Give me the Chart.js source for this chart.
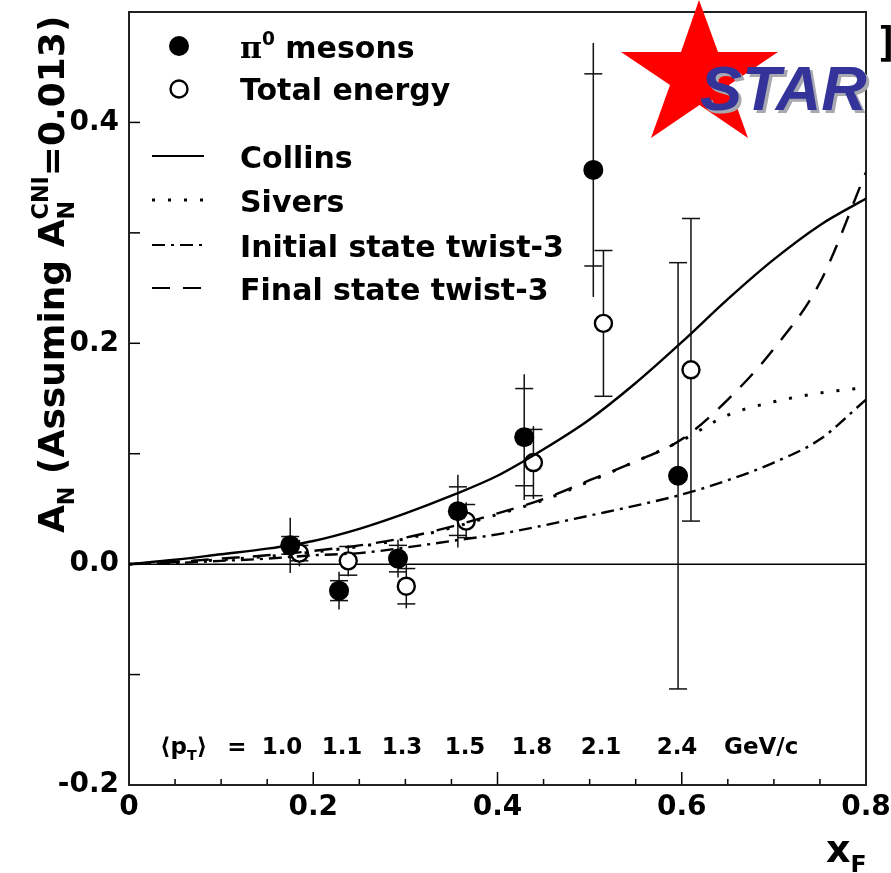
<!DOCTYPE html>
<html>
<head>
<meta charset="utf-8">
<title>STAR A_N vs x_F</title>
<script src="https://cdn.jsdelivr.net/npm/chart.js@4.4.1/dist/chart.umd.min.js"></script>
<style>
html,body{margin:0;padding:0;background:#ffffff;}
canvas{display:block;}
</style>
</head>
<body>
<canvas id="chart" width="891" height="873"></canvas>
<script>
// ---------------- data ----------------
const curveX   = [0, 0.05, 0.10, 0.15, 0.20, 0.25, 0.30, 0.35, 0.40, 0.45, 0.50, 0.55, 0.60, 0.65, 0.70, 0.75, 0.80];
const collinsY = [0, 0.004, 0.009, 0.014, 0.021, 0.032, 0.046, 0.062, 0.080, 0.104, 0.131, 0.164, 0.201, 0.240, 0.276, 0.307, 0.331];
const siversY  = [0, 0.002, 0.004, 0.007, 0.011, 0.016, 0.023, 0.033, 0.045, 0.058, 0.075, 0.093, 0.112, 0.135, 0.147, 0.155, 0.160];
const initialY = [0, 0.001, 0.003, 0.005, 0.008, 0.010, 0.015, 0.021, 0.027, 0.035, 0.044, 0.053, 0.063, 0.076, 0.092, 0.113, 0.149];
const finalY   = [0, 0.002, 0.005, 0.008, 0.012, 0.017, 0.024, 0.034, 0.046, 0.059, 0.076, 0.093, 0.113, 0.149, 0.195, 0.255, 0.355];

const pionX    = [0.175, 0.228, 0.292, 0.357, 0.429, 0.504, 0.596];
const pionY    = [0.017, -0.024, 0.005, 0.048, 0.115, 0.357, 0.080];
const pionErr  = [0.025, 0.017, 0.017, 0.033, 0.057, 0.115, 0.193];
const pionStat = [0.008, 0.009, 0.012, 0.022, 0.044, 0.087, 0.193];

const totX     = [0.185, 0.238, 0.301, 0.366, 0.439, 0.515, 0.610];
const totY     = [0.010, 0.003, -0.020, 0.039, 0.092, 0.218, 0.176];
const totErr   = [0.012, 0.014, 0.020, 0.017, 0.033, 0.066, 0.137];
const totStat  = [0.007, 0.013, 0.016, 0.015, 0.030, 0.066, 0.137];

const ptValues    = ['1.0', '1.1', '1.3', '1.5', '1.8', '2.1', '2.4'];
const xTickVals   = [0, 0.2, 0.4, 0.6, 0.8];
const xTickLabels = ['0', '0.2', '0.4', '0.6', '0.8'];
const yTickVals   = [-0.2, 0, 0.2, 0.4];
const yTickLabels = ['-0.2', '0.0', '0.2', '0.4'];
const seriesNames = ['mesons', 'Total energy', 'Collins', 'Sivers', 'Initial state twist-3', 'Final state twist-3'];

// ---------------- helpers ----------------
const FAM = "'DejaVu Sans', 'Liberation Sans', sans-serif";
const INK = '#000000';
const DASH_SIVERS = [3, 13];
const DASH_INITIAL = [13, 6, 3, 6];
const DASH_FINAL = [18, 13];

function drawRich(ctx, x, y, parts, size) {
  let cx = x, prevStart = x;
  for (const p of parts) {
    const s = p.mode ? size * 0.62 : size;
    const fam = p.family || FAM;
    ctx.font = (p.italic ? 'italic ' : '') + 'bold ' + s + 'px ' + fam;
    const w = ctx.measureText(p.t).width;
    const start = p.stack ? prevStart : cx;
    const dy = p.mode === 'sub' ? size * 0.27 : (p.mode === 'sup' ? -size * 0.45 : 0);
    ctx.fillText(p.t, start, y + dy);
    cx = p.stack ? Math.max(cx, start + w) : start + w;
    prevStart = start;
  }
  return cx;
}

const pts = (xs, ys) => xs.map((v, i) => ({x: v, y: ys[i]}));

// background frame, inward ticks, zero line, error bars
const underlay = {
  id: 'underlay',
  beforeDatasetsDraw(chart) {
    const {ctx, chartArea: a, scales: {x, y}} = chart;
    ctx.save();
    ctx.strokeStyle = INK;
    // zero line
    ctx.lineWidth = 1.5;
    ctx.beginPath();
    ctx.moveTo(x.getPixelForValue(0), y.getPixelForValue(0));
    ctx.lineTo(x.getPixelForValue(0.8), y.getPixelForValue(0));
    ctx.stroke();
    // inward ticks on x
    ctx.lineWidth = 1.5;
    for (let k = 1; k < 16; k++) {
      const v = k * 0.05;
      const px = x.getPixelForValue(v);
      const len = (k % 4 === 0) ? 13 : 6;
      ctx.beginPath(); ctx.moveTo(px, a.bottom); ctx.lineTo(px, a.bottom - len); ctx.stroke();
    }
    // inward ticks on y
    for (let k = -1; k <= 4; k++) {
      const v = k * 0.1;
      const py = y.getPixelForValue(v);
      ctx.beginPath(); ctx.moveTo(a.left, py); ctx.lineTo(a.left + 11, py); ctx.stroke();
    }
    // error bars
    ctx.lineWidth = 1.5;
    ctx.strokeStyle = '#111';
    const sets = [[pionX, pionY, pionErr, pionStat], [totX, totY, totErr, totStat]];
    for (const [xs, ys, es, ss] of sets) {
      xs.forEach((xv, i) => {
        const px = x.getPixelForValue(xv);
        const y1 = y.getPixelForValue(ys[i] + es[i]);
        const y2 = y.getPixelForValue(ys[i] - es[i]);
        ctx.beginPath(); ctx.moveTo(px, y1); ctx.lineTo(px, y2); ctx.stroke();
        for (const sv of [ys[i] + ss[i], ys[i] - ss[i]]) {
          const py = y.getPixelForValue(sv);
          ctx.beginPath(); ctx.moveTo(px - 9, py); ctx.lineTo(px + 9, py); ctx.stroke();
        }
      });
    }
    // frame
    ctx.strokeStyle = '#222';
    ctx.lineWidth = 2;
    ctx.strokeRect(a.left, a.top, a.right - a.left, a.bottom - a.top);
    ctx.restore();
  }
};

// texts, legend, logo
const overlay = {
  id: 'overlay',
  afterDraw(chart) {
    const {ctx, chartArea: a} = chart;
    ctx.save();
    ctx.fillStyle = INK;
    ctx.strokeStyle = INK;
    ctx.textBaseline = 'alphabetic';
    ctx.textAlign = 'left';

    // ---- legend ----
    const lx = a.left + 50;  // marker / line sample centre
    const tx = a.left + 111; // text start
    ctx.beginPath(); ctx.arc(lx, 46, 10, 0, Math.PI * 2); ctx.fill();
    ctx.lineWidth = 2.4;
    ctx.beginPath(); ctx.arc(lx, 89, 8.5, 0, Math.PI * 2);
    ctx.fillStyle = '#fff'; ctx.fill(); ctx.stroke();
    ctx.fillStyle = INK;

    drawRich(ctx, tx, 58, [{t: 'π', family: "'DejaVu Serif', 'Liberation Serif', serif"}, {t: '0', mode: 'sup'}, {t: ' ' + seriesNames[0]}], 30);
    ctx.font = 'bold 30px ' + FAM;
    ctx.fillText(seriesNames[1], tx, 100);

    const lines = [
      {name: seriesNames[2], y: 156, dash: [], base: 168},
      {name: seriesNames[3], y: 200, dash: DASH_SIVERS, base: 212, w: 3},
      {name: seriesNames[4], y: 245, dash: DASH_INITIAL, base: 257},
      {name: seriesNames[5], y: 288, dash: DASH_FINAL, base: 300}
    ];
    for (const L of lines) {
      ctx.setLineDash(L.dash);
      ctx.lineWidth = L.w || 2.2;
      ctx.beginPath(); ctx.moveTo(a.left + 23, L.y); ctx.lineTo(a.left + 75, L.y); ctx.stroke();
      ctx.setLineDash([]);
      ctx.font = 'bold 30px ' + FAM;
      ctx.fillText(L.name, tx, L.base);
    }

    // ---- <pT> row ----
    const rowY = 754;
    drawRich(ctx, 160, rowY, [{t: '⟨p'}, {t: 'T', mode: 'sub'}, {t: '⟩'}], 23);
    ctx.font = 'bold 23px ' + FAM;
    ctx.textAlign = 'center';
    ctx.fillText('=', 237, rowY);
    const ptCentres = [282, 342, 402, 465, 532, 601, 677];
    ptValues.forEach((v, i) => ctx.fillText(v, ptCentres[i], rowY));
    ctx.textAlign = 'left';
    ctx.fillText('GeV/c', 724, rowY);

    // ---- axis titles ----
    ctx.save();
    ctx.translate(64, 533);
    ctx.rotate(-Math.PI / 2);
    drawRich(ctx, 0, 0, [
      {t: 'A'}, {t: 'N', mode: 'sub'}, {t: ' (Assuming '},
      {t: 'A'}, {t: 'N', mode: 'sub'}, {t: 'CNI', mode: 'sup', stack: true},
      {t: '=0.013)'}
    ], 36);
    ctx.restore();
    drawRich(ctx, 826, 862, [{t: 'x'}, {t: 'F', mode: 'sub'}], 38);

    // ---- STAR logo ----
    ctx.fillStyle = '#ff0000';
    const star = [[699, 0], [718, 52], [778, 52], [729, 85], [748, 138], [699.5, 105], [651, 138], [670, 85], [621, 52], [681, 52]];
    ctx.beginPath();
    star.forEach(([sx, sy], i) => i ? ctx.lineTo(sx, sy) : ctx.moveTo(sx, sy));
    ctx.closePath(); ctx.fill();
    ctx.font = 'italic bold 63px "Liberation Sans", Arial, sans-serif';
    ctx.fillStyle = '#a8a8b0';
    ctx.fillText('STAR', 703, 113);
    ctx.fillStyle = '#333399';
    ctx.fillText('STAR', 700, 110);

    ctx.fillStyle = '#000';
    ctx.font = 'bold 40px "DejaVu Sans Mono", monospace';
    ctx.fillText(']', 875, 56);
    ctx.restore();
  }
};

const ctx = document.getElementById('chart').getContext('2d');
new Chart(ctx, {
  type: 'scatter',
  data: {
    datasets: [
      {label: 'Collins', data: pts(curveX, collinsY), showLine: true, borderColor: INK, borderWidth: 2.4, pointRadius: 0, cubicInterpolationMode: 'monotone', order: 0},
      {label: 'Sivers', data: pts(curveX, siversY), showLine: true, borderColor: INK, borderWidth: 3, borderDash: DASH_SIVERS, pointRadius: 0, cubicInterpolationMode: 'monotone', order: 0},
      {label: 'Initial state twist-3', data: pts(curveX, initialY), showLine: true, borderColor: INK, borderWidth: 2.4, borderDash: DASH_INITIAL, pointRadius: 0, cubicInterpolationMode: 'monotone', order: 0},
      {label: 'Final state twist-3', data: pts(curveX, finalY), showLine: true, borderColor: INK, borderWidth: 2.4, borderDash: DASH_FINAL, pointRadius: 0, cubicInterpolationMode: 'monotone', order: 0},
      {label: 'pi0 mesons', data: pts(pionX, pionY), showLine: false, pointStyle: 'circle', pointRadius: 10, pointBackgroundColor: INK, pointBorderColor: INK, pointBorderWidth: 0, order: 1},
      {label: 'Total energy', data: pts(totX, totY), showLine: false, pointStyle: 'circle', pointRadius: 8.5, pointBackgroundColor: '#fff', pointBorderColor: INK, pointBorderWidth: 2.4, order: 1}
    ]
  },
  options: {
    responsive: false,
    animation: false,
    devicePixelRatio: 1,
    layout: {padding: {left: 0, right: 25, top: 12, bottom: 0}},
    plugins: {legend: {display: false}, tooltip: {enabled: false}},
    scales: {
      x: {
        type: 'linear', min: 0, max: 0.8,
        afterFit(s) { s.height = 88; s.paddingLeft = 0; s.paddingRight = 0; },
        afterBuildTicks(s) { s.ticks = xTickVals.map(v => ({value: v})); },
        grid: {display: false, drawTicks: false},
        border: {display: false},
        ticks: {
          autoSkip: false, maxRotation: 0, padding: 12, color: INK,
          font: {family: FAM, weight: 'bold', size: 28, lineHeight: 0.8},
          callback: (v, i) => xTickLabels[i]
        }
      },
      y: {
        type: 'linear', min: -0.2, max: 0.5,
        afterFit(s) { s.width = 129; s.paddingTop = 0; s.paddingBottom = 0; },
        afterBuildTicks(s) { s.ticks = yTickVals.map(v => ({value: v})); },
        grid: {display: false, drawTicks: false},
        border: {display: false},
        ticks: {
          autoSkip: false, padding: 10, color: INK,
          font: {family: FAM, weight: 'bold', size: 28, lineHeight: 0.8},
          callback: (v, i) => yTickLabels[i]
        }
      }
    }
  },
  plugins: [underlay, overlay]
});
</script>
</body>
</html>
